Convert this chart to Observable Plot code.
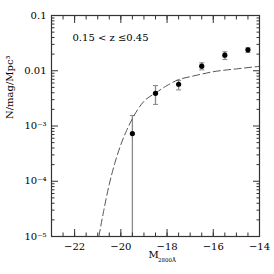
<!DOCTYPE html>
<html><head><meta charset="utf-8">
<script src="https://cdn.jsdelivr.net/npm/d3@7"></script>
<script src="https://cdn.jsdelivr.net/npm/@observablehq/plot@0.6"></script>
<style>body{margin:0;background:#fff}</style>
</head><body><div id="chart"></div>
<script>
// Data points (luminosity function)
const mags = [-19.5, -18.5, -17.5, -16.5, -15.5, -14.5];
const density = [7.3e-4, 3.9e-3, 5.7e-3, 0.0121, 0.0191, 0.0239];
const errLow = [1e-7, 2.46e-3, 4.5e-3, 0.0104, 0.016, 0.0214];
const errHigh = [1.55e-3, 5.4e-3, 6.7e-3, 0.0139, 0.022, 0.026];
// Dashed model curve
const curveMag = [-20.95, -20.75, -20.5, -20.25, -20, -19.75, -19.5, -19.25, -19, -18.5, -18, -17.5, -17, -16.5, -16, -15, -14];
const curveVal = [1.0e-5, 2.8e-5, 8.8e-5, 2.2e-4, 4.6e-4, 8.3e-4, 1.36e-3, 2.05e-3, 2.8e-3, 3.95e-3, 5.4e-3, 6.9e-3, 7.8e-3, 8.7e-3, 9.6e-3, 0.0108, 0.0120];
// Ticks and labels
const xMajor = [-22, -20, -18, -16, -14];
const xMajorLabels = ["−22", "−20", "−18", "−16", "−14"];
const xMinor = d3.range(-23, -13.99, 0.5);
const yMajor = [1e-5, 1e-4, 1e-3, 1e-2, 1e-1];
const yMajorLabels = ["10⁻⁵", "10⁻⁴", "10⁻³", "0.01", "0.1"];
const yMinor = [1e-5, 1e-4, 1e-3, 1e-2].flatMap(d => [2,3,4,5,6,7,8,9].map(k => k * d));
const title = "0.15 < z ≤0.45";
const yTitle = "N/mag/Mpc³";
const xTitleMain = "M";
const xTitleSub = "2800Å";

const points = mags.map((m, i) => ({m, v: density[i], lo: errLow[i], hi: errHigh[i]}));
const caps = points.flatMap(p => [{m: p.m, v: p.lo}, {m: p.m, v: p.hi}]).filter(c => c.v >= 1e-5);
const curve = curveMag.map((m, i) => ({m, v: curveVal[i]}));

const capSymbol = {draw(ctx, size) { const w = Math.sqrt(size / Math.PI); ctx.moveTo(-w, 0); ctx.lineTo(w, 0); }};
const xLab = new Map(xMajor.map((d, i) => [d, xMajorLabels[i]]));
const yLab = new Map(yMajor.map((d, i) => [d, yMajorLabels[i]]));
const tc = "#333";

const chart = Plot.plot({
  width: 274, height: 274,
  marginLeft: 51, marginRight: 15, marginTop: 15, marginBottom: 38,
  style: {fontFamily: "DejaVu Serif", fontSize: "10px", background: "white", color: "black"},
  x: {domain: [-23, -14], label: null},
  y: {type: "log", domain: [1e-5, 0.1], label: null},
  marks: [
    Plot.ruleX(points, {x: "m", y1: "lo", y2: "hi", stroke: "#8a8a8a", strokeWidth: 1.3, clip: true}),
    Plot.dot(caps, {x: "m", y: "v", r: 2.5, symbol: capSymbol, stroke: "#8a8a8a", fill: "none", strokeWidth: 1.1}),
    Plot.line(curve, {x: "m", y: "v", stroke: "#555", strokeWidth: 1, strokeDasharray: "7,3.5", curve: "monotone-x", clip: true}),
    Plot.dot(points, {x: "m", y: "v", r: 2.6, fill: "black", stroke: "none"}),
    // inward ticks
    Plot.axisX(xMajor, {anchor: "bottom", tickSize: -7, tickFormat: () => "", stroke: tc}),
    Plot.axisX(xMinor, {anchor: "bottom", tickSize: -3.5, tickFormat: () => "", stroke: tc}),
    Plot.axisX(xMajor, {anchor: "top", tickSize: -7, tickFormat: () => "", stroke: tc}),
    Plot.axisX(xMinor, {anchor: "top", tickSize: -3.5, tickFormat: () => "", stroke: tc}),
    Plot.axisY(yMajor, {anchor: "left", tickSize: -7, tickFormat: () => "", stroke: tc}),
    Plot.axisY(yMinor, {anchor: "left", tickSize: -3.5, tickFormat: () => "", stroke: tc}),
    Plot.axisY(yMajor, {anchor: "right", tickSize: -7, tickFormat: () => "", stroke: tc}),
    Plot.axisY(yMinor, {anchor: "right", tickSize: -3.5, tickFormat: () => "", stroke: tc}),
    // tick labels
    Plot.axisX(xMajor, {anchor: "bottom", tickSize: 0, tickPadding: 6, tickFormat: d => xLab.get(d), fontSize: 10}),
    Plot.axisY(yMajor, {anchor: "left", tickSize: 0, tickPadding: 5, tickFormat: d => yLab.get(d), fontSize: 10}),
    Plot.frame({stroke: tc, strokeWidth: 1.2}),
    // texts
    Plot.text([title], {frameAnchor: "top-left", dx: 21, dy: 18, textAnchor: "start", fontSize: 10}),
    Plot.text([yTitle], {frameAnchor: "left", dx: -42, dy: -7, rotate: -90, fontSize: 10}),
    Plot.text([xTitleMain], {frameAnchor: "bottom", dx: -2, dy: 21, fontSize: 10}),
    Plot.text([xTitleSub], {frameAnchor: "bottom", dx: 2.5, dy: 25, textAnchor: "start", fontSize: 5.5})
  ]
});
document.getElementById("chart").appendChild(chart);
</script>
</body></html>
